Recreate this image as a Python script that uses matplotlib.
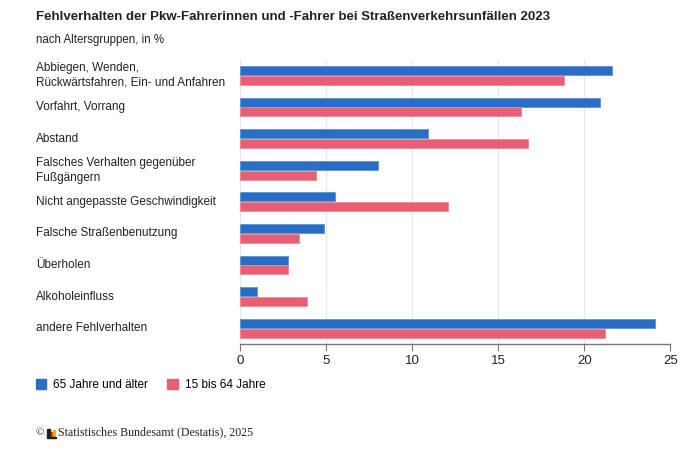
import matplotlib
matplotlib.use("Agg")
import matplotlib.pyplot as plt
import matplotlib.transforms as mtransforms
from matplotlib.patches import Rectangle, Patch
import numpy as np

plt.rcParams['font.family'] = ['Liberation Sans', 'DejaVu Sans']

categories = [
    "Abbiegen, Wenden,\nRückwärtsfahren, Ein- und Anfahren",
    "Vorfahrt, Vorrang",
    "Abstand",
    "Falsches Verhalten gegenüber\nFußgängern",
    "Nicht angepasste Geschwindigkeit",
    "Falsche Straßenbenutzung",
    "Überholen",
    "Alkoholeinfluss",
    "andere Fehlverhalten",
]
senior = [21.6, 20.9, 10.9, 8.0, 5.5, 4.9, 2.8, 1.0, 24.1]
younger = [18.8, 16.3, 16.7, 4.4, 12.1, 3.4, 2.8, 3.9, 21.2]
series_names = ["65 Jahre und älter", "15 bis 64 Jahre"]
xticks = [0, 5, 10, 15, 20, 25]

blue = "#2a6dc2"
pink = "#e65f72"

fig = plt.figure(figsize=(6.8, 4.5), dpi=100)
ax = fig.add_axes([0.353, 0.2356, 0.633, 0.632])

y = np.arange(len(categories))
h = 0.285
ax.barh(y - 0.155, senior, height=h, color=blue, edgecolor="#5b93d8", linewidth=0.6, zorder=3)
ax.barh(y + 0.155, younger, height=h, color=pink, edgecolor="#f08a98", linewidth=0.6, zorder=3)

ax.set_xlim(0, 25)
ax.set_ylim(8.5, -0.5)
ax.set_xticks(xticks)
ax.set_xticklabels([str(t) for t in xticks], fontsize=9.5, color="#222222")
ax.set_yticks([])
ax.grid(axis="x", color="#e6e6e6", linewidth=0.8, zorder=0)
for s in ["top", "right", "left"]:
    ax.spines[s].set_visible(False)
ax.spines["bottom"].set_color("#777777")
ax.spines["bottom"].set_linewidth(1.0)
ax.tick_params(axis="x", length=5, color="#777777", pad=3)

# category labels, left-aligned in figure space
trans = mtransforms.blended_transform_factory(fig.transFigure, ax.transData)
for yi, lab in zip(y, categories):
    ax.text(36 / 680, yi, lab, transform=trans, ha="left", va="center",
            fontsize=8.5, color="#222222", linespacing=1.35, clip_on=False)

fig.text(36 / 680, 1 - 17 / 450, "Fehlverhalten der Pkw-Fahrerinnen und -Fahrer bei Straßenverkehrsunfällen 2023",
         fontsize=9.55, fontweight="bold", color="#222222", va="center")
fig.text(36 / 680, 1 - 40 / 450, "nach Altersgruppen, in %", fontsize=8.3, color="#222222", va="center")

handles = [Patch(facecolor=blue, edgecolor=blue), Patch(facecolor=pink, edgecolor=pink)]
fig.legend(handles, series_names, loc="center left", bbox_to_anchor=(25 / 680, 1 - 385 / 450),
           ncol=2, frameon=False, fontsize=8.5, handlelength=0.9, handleheight=0.9,
           handletextpad=0.6, columnspacing=1.6)

# footer with small logo
fig.text(35 / 680, 1 - 433 / 450, "©", fontsize=8, family=["Liberation Serif"], va="center", color="#222222")
logo = [(47, 3, "#222222", 8), (50.5, 2, "#d22c2c", 5), (53, 2, "#f0b400", 7)]
for lx, lw, lc, lh in logo:
    fig.add_artist(Rectangle((lx / 680, 1 - 437 / 450), lw / 680, lh / 450,
                             transform=fig.transFigure, color=lc))
fig.add_artist(Rectangle((47 / 680, 1 - 437.5 / 450), 9 / 680, 0.8 / 450,
                         transform=fig.transFigure, color="#222222"))
fig.text(58 / 680, 1 - 432 / 450, "Statistisches Bundesamt (Destatis), 2025", fontsize=8.6,
         family=["Liberation Serif"], va="center", color="#222222")

fig.savefig("out.png", dpi=100)
